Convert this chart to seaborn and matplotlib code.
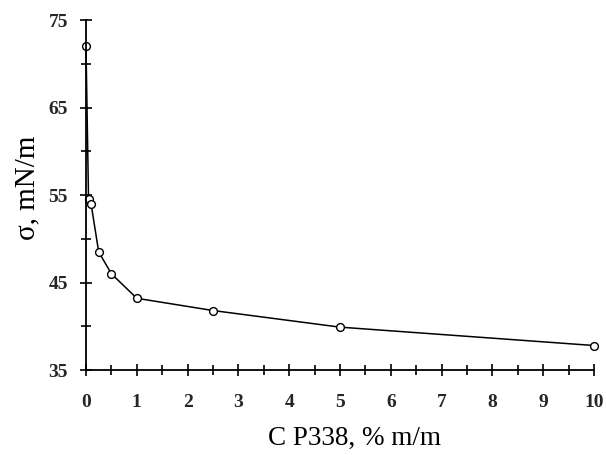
import matplotlib
matplotlib.use("Agg")
import matplotlib.pyplot as plt
import seaborn as sns
import pandas as pd
from matplotlib.ticker import MultipleLocator

concentration = [0, 0.05, 0.1, 0.25, 0.5, 1, 2.5, 5, 10]
tension = [72.0, 54.5, 54.0, 48.5, 46.0, 43.2, 41.8, 39.9, 37.8]

sns.set_theme(style="white")
plt.rcParams['font.family'] = ['Liberation Serif', 'DejaVu Serif']

df = pd.DataFrame({"c": concentration, "s": tension})

fig = plt.figure(figsize=(6.06, 4.55), dpi=100)
ax = fig.add_axes([0.1419, 0.1868, 0.8383, 0.769])

sns.lineplot(data=df, x="c", y="s", ax=ax, color="black", linewidth=1.1,
             marker="o", markersize=5.6, markerfacecolor="white",
             markeredgecolor="black", markeredgewidth=1.0, clip_on=False)

ax.set_xlim(0, 10)
ax.set_ylim(35, 75)
ax.xaxis.set_major_locator(MultipleLocator(1))
ax.xaxis.set_minor_locator(MultipleLocator(0.5))
ax.yaxis.set_minor_locator(MultipleLocator(5))
ax.set_yticks([35, 45, 55, 65, 75])

for s in ["top", "right"]:
    ax.spines[s].set_visible(False)
for s in ["left", "bottom"]:
    ax.spines[s].set_color("black")
    ax.spines[s].set_linewidth(1.3)

ax.tick_params(which="major", direction="inout", length=9, width=1.2,
               color="black", left=True, bottom=True)
ax.tick_params(which="minor", direction="inout", length=7.5, width=1.2,
               color="black", left=True, bottom=True)
ax.tick_params(axis="x", which="major", labelsize=14, pad=13)
ax.tick_params(axis="y", which="major", labelsize=14, pad=8.5)
for lab in ax.get_xticklabels() + ax.get_yticklabels():
    lab.set_fontweight("bold")

ax.set_xlabel("C P338, % m/m", fontsize=19.5, color="black")
ax.set_ylabel("σ, mN/m", fontsize=21, color="black")
ax.xaxis.set_label_coords(0.528, -0.16)
ax.yaxis.set_label_coords(-0.09, 0.52)

fig.savefig("out.png", dpi=100)
